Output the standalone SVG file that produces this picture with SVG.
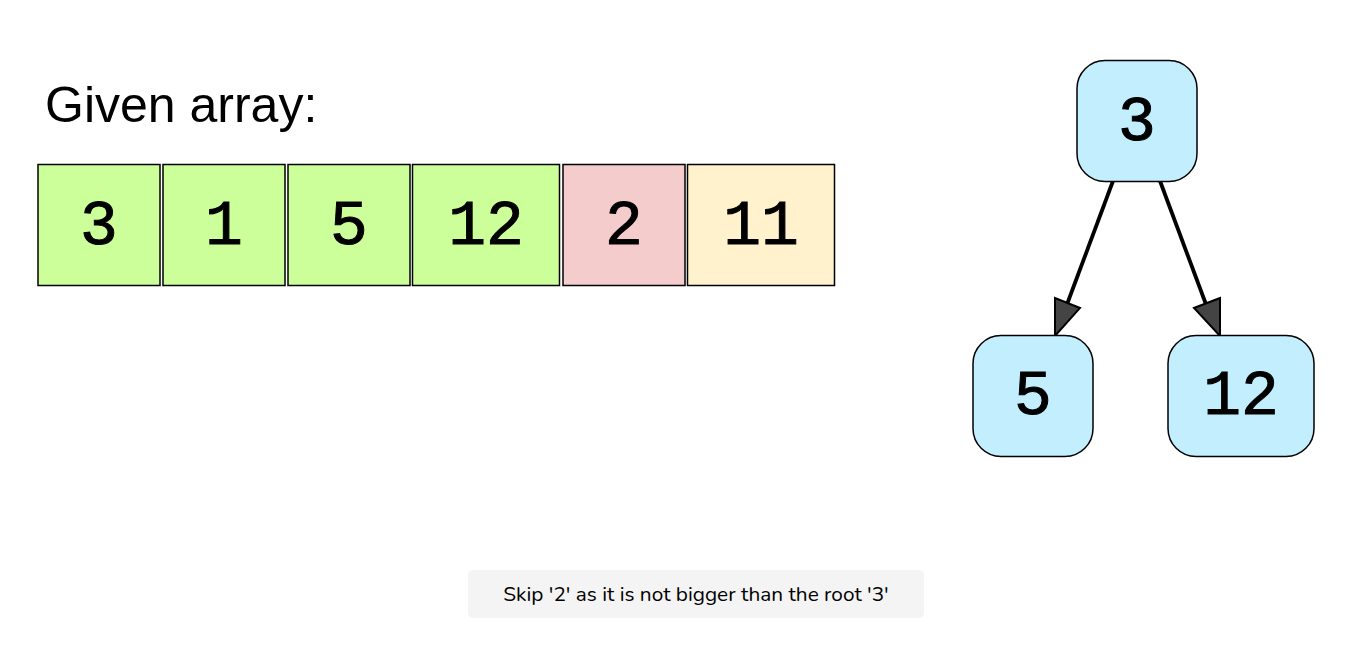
<svg xmlns="http://www.w3.org/2000/svg" width="1371" height="655" viewBox="0 0 1371 655">
<defs>
<style>
.cell{stroke:#000;stroke-width:1.5}
.num{font-family:"Liberation Mono","Courier New",monospace;font-size:63px;fill:#000;stroke:#000;stroke-width:1;text-anchor:middle}
.tnode{fill:#c2eefe;stroke:#000;stroke-width:1.5}
.edge{stroke:#000;stroke-width:3.8;fill:none}
.head{fill:#444;stroke:#000;stroke-width:2;stroke-linejoin:miter}
</style>
</defs>
<rect width="1371" height="655" fill="#fff"/>
<text x="45" y="122" font-family="Liberation Sans, Arial, sans-serif" font-size="50" fill="#000">Given array:</text>
<g id="array">
<g id="cell-0"><rect class="cell" x="38" y="164.5" width="122" height="121" fill="#ccff99"/><text class="num" x="99" y="244">3</text></g>
<g id="cell-1"><rect class="cell" x="163" y="164.5" width="122" height="121" fill="#ccff99"/><text class="num" x="224" y="244">1</text></g>
<g id="cell-2"><rect class="cell" x="288" y="164.5" width="122" height="121" fill="#ccff99"/><text class="num" x="349" y="244">5</text></g>
<g id="cell-3"><rect class="cell" x="412.5" y="164.5" width="147" height="121" fill="#ccff99"/><text class="num" x="486" y="244">12</text></g>
<g id="cell-4"><rect class="cell" x="563" y="164.5" width="122" height="121" fill="#f4cccc"/><text class="num" x="624" y="244">2</text></g>
<g id="cell-5"><rect class="cell" x="687.5" y="164.5" width="147" height="121" fill="#fff2cc"/><text class="num" x="761" y="244">11</text></g>
</g>
<g id="connectors">
<line class="edge" x1="1113" y1="181" x2="1066" y2="307"/>
<polygon class="head" points="1055,336 1055,298 1080,308"/>
<line class="edge" x1="1160" y1="181" x2="1207" y2="307"/>
<polygon class="head" points="1220,336 1220,298 1194,308"/>
</g>
<g id="node-3"><rect class="tnode" x="1077" y="60.5" width="120" height="121" rx="28"/><text class="num" x="1137" y="140">3</text></g>
<g id="node-5"><rect class="tnode" x="973" y="335.5" width="120" height="121" rx="28"/><text class="num" x="1033" y="414">5</text></g>
<g id="node-12"><rect class="tnode" x="1168" y="335.5" width="146" height="121" rx="28"/><text class="num" x="1241" y="414">12</text></g>
<g id="caption">
<rect x="468" y="570" width="456" height="48" rx="5" fill="#f4f4f4"/>
<text x="696" y="601" font-family="Nunito, 'Noto Sans', sans-serif" font-size="20.8" fill="#000" text-anchor="middle">Skip '2' as it is not bigger than the root '3'</text>
</g>
</svg>
